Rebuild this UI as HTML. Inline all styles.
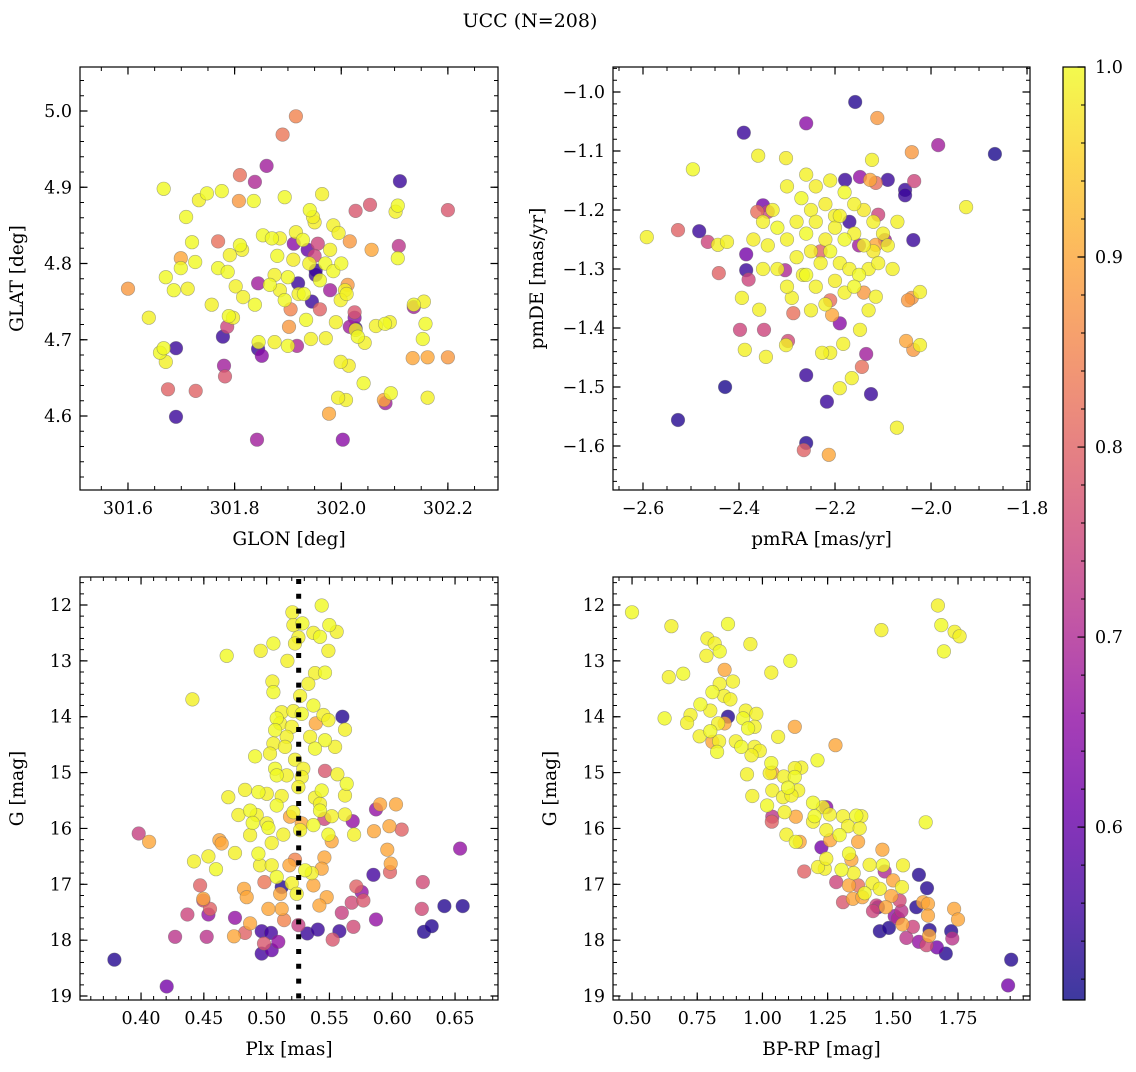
<!DOCTYPE html>
<html><head><meta charset="utf-8">
<style>
html,body{margin:0;padding:0;background:#fff;}
svg text{font-family:"DejaVu Serif","Liberation Serif",serif;fill:#000;}
</style></head>
<body>
<svg id="fig" width="1136" height="1067" viewBox="0 0 1136 1067" xmlns="http://www.w3.org/2000/svg">
<text x="530" y="27" font-size="19" text-anchor="middle">UCC (N=208)</text>
</svg>
<script>
// ---------- Panel 1: GLON / GLAT ----------
const glonVals=[301.915,301.890,301.860,301.667,301.748,301.776,301.810,301.838,302.110,301.894,301.964,301.709,301.733,301.941,301.947,301.950,302.027,302.054,302.102,302.106,302.200,301.808,301.836,301.699,301.726,301.720,301.769,301.810,301.814,301.791,301.853,301.870,301.885,301.915,301.928,301.911,301.956,301.937,301.979,302.016,302.057,302.106,302.108,301.699,301.712,301.686,301.769,301.787,301.802,301.639,301.600,301.671,301.757,301.789,301.797,301.786,301.816,301.838,301.844,301.866,301.885,301.894,301.875,301.900,301.919,301.952,301.952,301.945,301.979,302.007,302.012,302.025,302.025,302.016,302.027,301.999,301.990,301.971,302.027,302.031,302.065,302.082,302.091,302.044,302.136,302.155,302.158,302.136,302.153,302.134,302.162,301.999,302.014,302.042,302.093,302.080,302.083,302.009,301.994,301.977,302.003,302.162,302.200,301.671,301.660,301.667,301.690,301.778,301.780,301.782,301.675,301.727,301.690,301.842,301.844,301.851,301.917,301.845,301.875,301.900,301.943,301.934,301.902,301.930,301.960,301.970,301.940,301.910,301.985,301.920,301.905,301.960,301.880,302.000,302.010,301.950,301.985,301.995];
const glatVals=[4.993,4.969,4.928,4.898,4.892,4.895,4.916,4.907,4.908,4.887,4.891,4.861,4.883,4.870,4.861,4.854,4.869,4.877,4.868,4.876,4.870,4.882,4.882,4.807,4.802,4.828,4.829,4.824,4.818,4.811,4.837,4.833,4.833,4.841,4.831,4.826,4.826,4.818,4.818,4.829,4.818,4.807,4.823,4.794,4.767,4.765,4.794,4.789,4.770,4.729,4.767,4.782,4.746,4.731,4.729,4.717,4.756,4.746,4.774,4.772,4.765,4.752,4.785,4.782,4.774,4.785,4.791,4.750,4.765,4.765,4.772,4.736,4.729,4.717,4.715,4.752,4.723,4.702,4.713,4.704,4.718,4.721,4.723,4.696,4.746,4.750,4.721,4.743,4.701,4.676,4.677,4.671,4.666,4.643,4.630,4.621,4.617,4.621,4.624,4.603,4.569,4.624,4.677,4.671,4.683,4.689,4.689,4.704,4.666,4.652,4.635,4.633,4.599,4.569,4.688,4.679,4.692,4.697,4.697,4.692,4.701,4.726,4.717,4.760,4.778,4.800,4.800,4.805,4.790,4.760,4.740,4.740,4.810,4.800,4.760,4.810,4.850,4.840];
const probVals1=[.85,.83,.68,1,1,1,.82,.7,.55,1,.99,1,.99,1,.99,.985,.78,.78,.99,1,.78,.88,1,.9,1,1,.82,1,.99,.99,1,1,.99,.99,1,.65,.75,.6,.99,.88,.9,1,.72,1,.99,1,1,1,.99,.99,.88,1,.99,1,.99,.75,.99,1,.68,1,.99,1,.99,1,.55,.55,.55,.55,.68,.99,.88,.78,.65,.68,.55,.99,.99,.99,.99,1,.99,1,.99,.99,1,.99,1,.68,1,.9,.9,.99,.985,1,1,.9,.68,.99,.99,.9,.65,.99,.88,.99,1,1,.55,.55,.68,.78,.8,.8,.55,.68,.55,.65,.7,1,.99,1,.99,1,.88,1,1,1,.99,.985,1,.99,.85,.8,1,1,.99,.75,.99,.99];

// ---------- Panel 2: pmRA / pmDE ----------
const pmraVals=[-2.158,-2.112,-1.985,-1.867,-2.260,-2.390,-2.496,-2.360,-2.302,-2.123,-2.040,-2.127,-2.115,-2.148,-2.090,-2.054,-2.054,-2.035,-1.927,-2.350,-2.340,-2.179,-2.592,-2.444,-2.527,-2.483,-2.465,-2.425,-2.385,-2.385,-2.380,-2.362,-2.037,-2.096,-2.110,-2.115,-2.040,-2.023,-2.048,-2.115,-2.052,-2.037,-2.023,-2.442,-2.398,-2.348,-2.304,-2.267,-2.290,-2.287,-2.210,-2.206,-2.190,-2.210,-2.302,-2.358,-2.394,-2.388,-2.298,-2.148,-2.135,-2.183,-2.144,-2.165,-2.190,-2.227,-2.344,-2.429,-2.527,-2.260,-2.265,-2.213,-2.260,-2.217,-2.125,-2.071,
-2.30,-2.27,-2.25,-2.22,-2.20,-2.18,-2.16,-2.14,-2.12,-2.10,-2.28,-2.26,-2.24,-2.22,-2.20,-2.18,-2.16,-2.14,-2.12,-2.30,-2.32,-2.34,-2.28,-2.25,-2.23,-2.21,-2.19,-2.17,-2.15,-2.13,-2.11,-2.26,-2.24,-2.20,-2.18,-2.16,-2.32,-2.30,-2.08,-2.09,-2.07,-2.19,-2.21,-2.24,-2.26,-2.33,-2.35,-2.37,-2.35,-2.17,-2.15,-2.23,-2.14,-2.25,-2.22,-2.13];
const pmdeVals=[-1.017,-1.044,-1.090,-1.105,-1.053,-1.069,-1.131,-1.108,-1.112,-1.115,-1.102,-1.149,-1.154,-1.144,-1.149,-1.166,-1.175,-1.151,-1.195,-1.192,-1.203,-1.149,-1.246,-1.259,-1.234,-1.236,-1.254,-1.254,-1.275,-1.302,-1.318,-1.203,-1.251,-1.251,-1.208,-1.259,-1.349,-1.339,-1.353,-1.347,-1.422,-1.437,-1.429,-1.307,-1.403,-1.403,-1.302,-1.310,-1.349,-1.375,-1.353,-1.378,-1.392,-1.442,-1.429,-1.369,-1.349,-1.437,-1.422,-1.403,-1.444,-1.427,-1.466,-1.485,-1.502,-1.442,-1.449,-1.500,-1.556,-1.595,-1.607,-1.615,-1.480,-1.525,-1.512,-1.569,
-1.16,-1.18,-1.20,-1.19,-1.21,-1.17,-1.19,-1.20,-1.22,-1.24,-1.22,-1.24,-1.22,-1.25,-1.23,-1.25,-1.24,-1.26,-1.27,-1.25,-1.23,-1.26,-1.28,-1.27,-1.29,-1.27,-1.29,-1.30,-1.31,-1.30,-1.29,-1.31,-1.33,-1.32,-1.34,-1.33,-1.30,-1.33,-1.30,-1.26,-1.22,-1.21,-1.15,-1.16,-1.14,-1.20,-1.22,-1.25,-1.30,-1.22,-1.26,-1.27,-1.34,-1.37,-1.36,-1.37];
const probVals2=[.53,.88,.68,.52,.65,.55,1,.99,.985,.99,.88,.9,.82,.66,.55,.55,.55,.75,.99,.62,.75,.55,.99,.99,.8,.55,.75,.99,.62,.55,.75,.82,.55,.68,.75,.9,.88,.99,.88,.99,.9,.88,.99,.8,.75,.75,.7,.99,.99,.82,.82,.9,.65,.99,.99,.99,.99,.99,.76,.99,.68,.99,.82,.99,.99,.99,.99,.52,.53,.53,.8,.9,.55,.55,.55,.99,
.99,1,.99,.985,.99,1,.99,.98,.99,.99,.99,1,.99,.985,.99,1,.99,.99,.98,.99,1,.99,.99,.985,.99,1,.99,.99,1,.99,.99,1,.99,.985,.99,1,.99,.99,.99,.99,.99,.99,.99,.985,.99,.99,.99,.985,.99,.55,.68,.8,.88,.99,.99,.99];

// ---------- Panel 3: Plx / G ----------
const plxVals=[.5438,.5205,.5285,.5213,.5499,.5558,.5372,.5425,.5253,.5226,.5054,.4953,.5492,.4682,.5165,.5385,.5465,.5332,.5046,.5054,.5266,.4409,.5372,.5120,.5213,.5279,.5452,.5492,.5080,.5107,.5200,.5067,.5624,.5346,.5465,.5160,.5054,.5385,.5545,.5146,.4908,.5027,.5226,.5067,.5292,.5279,.5080,.5160,.5563,.5637,.5253,.4828,.4934,.5001,.5120,.5438,.5624,.4695,.5080,.5385,.5425,.4868,.4775,.4921,.4889,.5001,.5213,.5425,.5518,.5624,.5014,.5133,.5266,.5372,.4868,.5040,.5492,.5696,.4748,.4934,.4422,.4536,.4597,.4947,.5040,.5306,.5359,.5200,.5080,.5239,
.5391,.5186,.4624,.4642,.5518,.5855,.5977,.6030,.5903,.5961,.5988,.5460,.5438,.5372,.5478,.5420,.5107,.5120,.4868,.4740,.5014,.4820,.4841,.4496,.5181,.5279,.4064,
.5465,.3981,.6075,.5982,.4470,.5226,.4982,.5714,.5770,.5677,.6243,.6235,.5691,.5526,.4828,.4979,.4549,.4369,.4496,.5598,.5139,
.5685,.5871,.5460,.6540,.5757,.5871,.4748,.4523,.4271,.4536,.5093,.5253,.4204,.5040,
.5603,.5850,.6415,.6561,.6253,.6314,.4961,.5035,.4961,.5324,.5407,.5579,.3788,.5120];
const gPlxVals=[12.01,12.13,12.33,12.36,12.36,12.48,12.50,12.57,12.58,12.69,12.69,12.82,12.82,12.91,13.00,13.22,13.21,13.41,13.37,13.56,13.63,13.69,13.80,13.92,13.90,13.95,13.97,14.06,14.03,14.12,14.18,14.24,14.23,14.36,14.42,14.36,14.48,14.57,14.54,14.54,14.71,14.66,14.77,14.93,14.93,15.08,15.05,15.05,15.03,15.20,15.26,15.31,15.35,15.38,15.42,15.32,15.41,15.44,15.59,15.45,15.56,15.68,15.76,15.76,15.90,15.91,15.71,15.68,15.78,15.75,15.99,16.11,16.03,15.94,16.12,16.26,16.11,16.11,16.44,16.45,16.59,16.50,16.73,16.66,16.66,16.75,16.80,16.98,16.87,17.17,
14.12,15.79,16.21,16.27,16.23,16.05,15.96,15.57,15.57,16.38,16.63,16.52,16.72,17.02,17.23,17.38,17.17,17.44,17.70,17.93,17.44,17.08,17.23,17.26,16.66,15.91,16.24,
14.97,16.09,16.02,16.78,17.02,16.56,16.96,17.04,17.29,17.33,16.96,17.44,17.76,17.99,17.87,18.06,17.44,17.54,17.29,17.51,17.64,
15.87,15.66,15.83,16.36,17.14,17.63,17.60,17.94,17.94,17.54,18.03,17.73,18.83,18.18,
14.00,16.83,17.39,17.39,17.85,17.75,17.84,17.87,18.24,17.88,17.81,17.84,18.35,17.05];
const probVals3=[1,.99,1,.99,1,.99,.99,1,.99,.99,1,.99,.99,1,.99,.99,1,.99,.99,1,.99,.99,1,.99,.99,1,.99,.99,1,.99,.99,1,.99,.99,1,.99,.99,1,.99,.99,1,.99,.99,1,.99,.99,1,.99,.99,1,.99,.99,1,.99,.99,1,.99,.99,1,.99,.99,1,.99,.99,1,.99,.99,1,.99,.99,1,.99,.99,1,.99,.99,1,.99,.99,1,.99,.99,1,.99,.99,1,.99,.99,1,.99,
.9,.9,.9,.9,.9,.9,.9,.9,.9,.9,.9,.9,.9,.9,.9,.9,.9,.9,.9,.9,.9,.9,.9,.9,.9,.9,.9,
.78,.74,.8,.8,.8,.85,.83,.8,.78,.76,.76,.76,.76,.78,.8,.78,.8,.75,.75,.74,.85,
.66,.66,.75,.66,.66,.66,.66,.72,.72,.66,.66,.74,.62,.6,
.53,.56,.53,.53,.53,.53,.56,.56,.56,.55,.55,.55,.53,.53];
const plxMedian=0.5255;

// ---------- Panel 4: BP-RP / G ----------
const bprpVals=[.500,.651,.868,.789,.817,.836,.954,.785,1.107,1.034,.641,.696,1.456,1.673,1.686,1.737,1.756,1.696,.836,.887,.808,.853,.877,.762,.800,.724,.625,.711,.830,.926,.936,.977,.945,.970,.759,.800,.834,.898,.919,.970,.990,.826,.958,1.060,1.034,1.149,1.124,1.211,1.028,1.082,1.124,.941,1.038,1.098,1.137,.961,1.018,1.079,1.111,1.194,1.232,1.085,1.200,1.258,1.309,1.360,1.379,1.092,1.128,1.194,1.245,1.296,1.328,1.373,1.332,1.239,1.213,1.303,1.350,1.411,1.462,1.422,1.450,1.392,1.539,1.535,1.626,1.245,
.855,1.124,1.280,.808,.855,1.038,1.128,1.143,1.367,1.460,1.341,1.332,1.347,1.383,1.494,1.501,1.616,1.635,1.735,1.750,1.635,1.537,1.639,1.473,1.260,
1.036,1.038,1.160,1.283,1.309,1.367,1.437,1.424,1.526,1.533,1.577,1.552,1.629,1.728,1.520,
1.226,1.469,1.507,1.600,1.669,1.942,1.245,
.868,1.600,1.631,1.590,1.450,1.485,1.641,1.724,1.703,1.954,1.443];
const gBprpVals=[12.13,12.38,12.34,12.60,12.69,12.83,12.70,12.91,13.00,13.21,13.29,13.23,12.45,12.01,12.36,12.48,12.56,12.83,13.41,13.37,13.56,13.63,13.69,13.78,13.89,13.97,14.03,14.11,14.12,14.03,13.89,13.95,14.21,14.18,14.35,14.26,14.44,14.44,14.54,14.54,14.61,14.63,14.69,14.36,14.83,14.91,14.92,14.78,15.01,15.07,15.08,15.03,15.32,15.27,15.32,15.42,15.59,15.44,15.41,15.54,15.62,15.71,15.78,15.75,15.78,15.77,15.78,16.11,16.24,15.88,16.03,16.12,15.96,16.00,16.45,16.72,16.69,16.74,16.80,16.65,16.66,16.98,17.08,17.16,16.66,17.05,15.89,16.54,
13.16,14.18,14.51,14.45,14.12,15.00,15.79,16.24,16.24,16.38,16.56,17.02,17.26,17.23,17.21,16.93,17.32,17.35,17.44,17.63,17.56,17.72,17.92,17.41,16.21,
15.88,15.79,16.77,16.96,17.32,17.02,17.38,17.48,17.29,17.48,17.76,17.96,18.09,17.97,17.61,
16.34,16.77,17.57,18.03,18.13,18.81,15.62,
14.00,16.83,17.07,17.41,17.84,17.78,17.82,17.84,18.24,18.35,17.41];
const probVals4=[1,.99,1,.99,.99,1,.99,.99,1,.99,.99,1,.99,.99,1,.99,.99,1,.99,.99,1,.99,.99,1,.99,.99,1,.99,.99,1,.99,.99,1,.99,.99,1,.99,.99,1,.99,.99,1,.99,.99,1,.99,.99,1,.99,.99,1,.99,.99,1,.99,.99,1,.99,.99,1,.99,.99,1,.99,.99,1,.99,.99,1,.99,.99,1,.99,.99,1,.99,.99,1,.99,.99,1,.99,.99,1,.99,.99,1,.99,
.9,.9,.9,.9,.9,.9,.9,.9,.9,.9,.9,.9,.9,.9,.9,.9,.9,.9,.9,.9,.9,.9,.9,.9,.9,
.8,.72,.8,.75,.78,.82,.75,.75,.76,.72,.75,.72,.76,.72,.7,
.62,.7,.66,.66,.62,.62,.65,
.53,.53,.53,.53,.53,.53,.53,.53,.53,.53,.55];

// colour scale
const cbTicks=[0.6,0.7,0.8,0.9,1.0];
const vmin=0.509, vmax=1.0;

const NS='http://www.w3.org/2000/svg';
const svg=document.getElementById('fig');
function mk(tag,attrs,parent){const e=document.createElementNS(NS,tag);for(const k in attrs)e.setAttribute(k,attrs[k]);(parent||svg).appendChild(e);return e;}
const plasmaStops=['#0d0887','#41049d','#6a00a8','#8f0da4','#b12a90','#cc4778','#e16462','#f2844b','#fca636','#fcce25','#f0f921'];
function hex(h){return [parseInt(h.substr(1,2),16),parseInt(h.substr(3,2),16),parseInt(h.substr(5,2),16)];}
function plasma(t){t=Math.max(0,Math.min(1,t));const s=t*10,i=Math.min(9,Math.floor(s)),f=s-i;const a=hex(plasmaStops[i]),b=hex(plasmaStops[i+1]);return 'rgb('+a.map((v,k)=>Math.round(v+(b[k]-v)*f)).join(',')+')';}
function colorOf(p){return plasma((p-vmin)/(vmax-vmin));}
function fmtNum(v,d){const s=Math.abs(v).toFixed(d);return (v<-1e-9?'\u2212':'')+s;}

function panel(cfg){
  const g=mk('g',{});
  
  
  const {x0,y0,x1,y1}=cfg.box;
  const sx=v=>x0+(v-cfg.xr[0])/(cfg.xr[1]-cfg.xr[0])*(x1-x0);
  const sy=cfg.invert? (v=>y0+(v-cfg.yr[0])/(cfg.yr[1]-cfg.yr[0])*(y1-y0)) : (v=>y1-(v-cfg.yr[0])/(cfg.yr[1]-cfg.yr[0])*(y1-y0));
  const pg=mk('g',{},g);
  
  
  const idx=cfg.xs.map((_,i)=>i).sort((a,b)=>cfg.ps[a]-cfg.ps[b]);
  idx.forEach(i=>{
    const c=mk('circle',{cx:sx(cfg.xs[i]).toFixed(1),cy:sy(cfg.ys[i]).toFixed(1),r:6.8,fill:colorOf(cfg.ps[i]),'fill-opacity':0.8,stroke:'#666','stroke-opacity':0.55,'stroke-width':0.6},pg);
    
    
  });
  if(cfg.extra) cfg.extra(g,sx,sy);
  const fr=mk('rect',{x:x0,y:y0,width:x1-x0,height:y1-y0,fill:'none',stroke:'#000','stroke-width':1.2},g);
  
  
  let d='';
  const eps=1e-9;
  for(let v=Math.ceil((cfg.xr[0])/cfg.xminor-eps)*cfg.xminor; v<=cfg.xr[1]+eps; v+=cfg.xminor){const x=sx(v);if(x<x0+0.5||x>x1-0.5)continue;d+=`M${x} ${y1}v-4M${x} ${y0}v4`;}
  for(let v=Math.ceil((Math.min(...cfg.yr))/cfg.yminor-eps)*cfg.yminor; v<=Math.max(...cfg.yr)+eps; v+=cfg.yminor){const y=sy(v);if(y<y0+0.5||y>y1-0.5)continue;d+=`M${x0} ${y}h4M${x1} ${y}h-4`;}
  mk('path',{d:d,stroke:'#000','stroke-width':1,fill:'none'},g);
  let D='';
  const xl=mk('g',{},g);
  
  
  cfg.xticks.forEach(v=>{const x=sx(v);D+=`M${x} ${y1}v-7.5M${x} ${y0}v7.5`;const t=mk('text',{x:x,y:y1+24,'font-size':17.5,'text-anchor':'middle'},xl);t.textContent=fmtNum(v,cfg.xdec);});
  const yl=mk('g',{},g);
  
  
  cfg.yticks.forEach(v=>{const y=sy(v);D+=`M${x0} ${y}h7.5M${x1} ${y}h-7.5`;const t=mk('text',{x:x0-8,y:y+6,'font-size':17.5,'text-anchor':'end'},yl);t.textContent=fmtNum(v,cfg.ydec);});
  mk('path',{d:D,stroke:'#000','stroke-width':1.2,fill:'none'},g);
  const xt=mk('text',{x:(x0+x1)/2,y:y1+55,'font-size':18.5,'text-anchor':'middle'},g);
  xt.textContent=cfg.xlabel;
  
  
  const yt=mk('text',{x:cfg.ylx,y:(y0+y1)/2,'font-size':18.5,'text-anchor':'middle',transform:`rotate(-90 ${cfg.ylx} ${(y0+y1)/2})`},g);
  yt.textContent=cfg.ylabel;
  
  
}
function range(a,b,s){const r=[];for(let v=a;v<=b+1e-9;v+=s)r.push(Math.round(v*1000)/1000);return r;}

panel({name:'panel-glon-glat',box:{x0:80,y0:67,x1:498,y1:490},xr:[301.510,302.294],yr:[4.503,5.0577],xs:glonVals,ys:glatVals,ps:probVals1,
  xticks:range(301.6,302.2,0.2),yticks:range(4.6,5.0,0.1),xminor:0.05,yminor:0.02,xdec:1,ydec:1,xlabel:'GLON [deg]',ylabel:'GLAT [deg]',ylx:23});
panel({name:'panel-pmra-pmde',box:{x0:613,y0:67,x1:1030,y1:490},xr:[-2.6625,-1.7938],yr:[-1.6746,-0.9576],xs:pmraVals,ys:pmdeVals,ps:probVals2,
  xticks:range(-2.6,-1.8,0.2),yticks:range(-1.6,-1.0,0.1),xminor:0.05,yminor:0.02,xdec:1,ydec:1,xlabel:'pmRA [mas/yr]',ylabel:'pmDE [mas/yr]',ylx:543});
panel({name:'panel-plx-g',box:{x0:80,y0:577,x1:498,y1:1000},xr:[0.3514,0.6842],yr:[11.499,19.071],invert:true,xs:plxVals,ys:gPlxVals,ps:probVals3,
  xticks:range(0.40,0.65,0.05),yticks:range(12,19,1),xminor:0.01,yminor:0.2,xdec:2,ydec:0,xlabel:'Plx [mas]',ylabel:'G [mag]',ylx:23,
  extra:(g,sx,sy)=>{const l=mk('line',{x1:sx(plxMedian),x2:sx(plxMedian),y1:579,y2:1000,stroke:'#000','stroke-width':5,'stroke-dasharray':'5 9.8'},g);
    
    }});
panel({name:'panel-bprp-g',box:{x0:613,y0:577,x1:1030,y1:1000},xr:[0.427,2.026],yr:[11.499,19.071],invert:true,xs:bprpVals,ys:gBprpVals,ps:probVals4,
  xticks:range(0.5,1.75,0.25),yticks:range(12,19,1),xminor:0.05,yminor:0.2,xdec:2,ydec:0,xlabel:'BP-RP [mag]',ylabel:'G [mag]',ylx:556});

// colorbar
(function(){
  const x0=1063,x1=1085,y0=67,y1=1000;
  const g=mk('g',{});
  
  
  const defs=mk('defs',{},g);
  const lg=mk('linearGradient',{id:'cbgrad',x1:0,y1:1,x2:0,y2:0},defs);
  for(let i=0;i<=20;i++){mk('stop',{offset:(i/20),'stop-color':plasma(i/20),'stop-opacity':0.8},lg);}
  mk('rect',{x:x0,y:y0,width:x1-x0,height:y1-y0,fill:'url(#cbgrad)'},g);
  mk('rect',{x:x0,y:y0,width:x1-x0,height:y1-y0,fill:'none',stroke:'#000','stroke-width':1.2},g);
  const sy=v=>y1-(v-vmin)/(vmax-vmin)*(y1-y0);
  let d='';
  for(let v=0.52;v<1.0-1e-9;v+=0.02){d+=`M${x1} ${sy(v)}h-4`;}
  mk('path',{d:d,stroke:'#000','stroke-width':1},g);
  let D='';
  cbTicks.forEach(v=>{const y=sy(v);D+=`M${x1} ${y}h-7.5`;const t=mk('text',{x:x1+10,y:y+6,'font-size':17.5},g);t.textContent=v.toFixed(1);
    
    });
  mk('path',{d:D,stroke:'#000','stroke-width':1.2},g);
})();
</script>
</body></html>
